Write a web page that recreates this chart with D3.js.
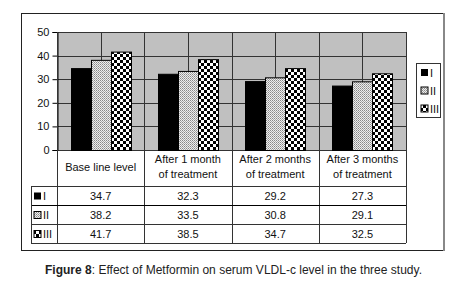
<!DOCTYPE html>
<html>
<head>
<meta charset="utf-8">
<script src="https://cdn.jsdelivr.net/npm/d3@7"></script>
<style>
  body { margin: 0; background: #fff; }
  text { font-family: "Liberation Sans", Arial, sans-serif; }
</style>
</head>
<body>
<div id="chart"></div>
<script>
const categories = [["Base line level"], ["After 1 month", "of treatment"], ["After 2 months", "of treatment"], ["After 3 months", "of treatment"]];
const series = ["I", "II", "III"];
const valuesI = [34.7, 32.3, 29.2, 27.3];
const valuesII = [38.2, 33.5, 30.8, 29.1];
const valuesIII = [41.7, 38.5, 34.7, 32.5];
const yTicks = [0, 10, 20, 30, 40, 50];

const rows = [valuesI, valuesII, valuesIII];
const fills = ["#000", "url(#pII)", "url(#pIII)"];

const width = 458, height = 292;
const svg = d3.select("#chart").append("svg")
    .attr("width", width).attr("height", height);

// patterns
const defs = svg.append("defs");
const p2 = defs.append("pattern").attr("id", "pII")
    .attr("patternUnits", "userSpaceOnUse").attr("width", 2).attr("height", 2);
p2.append("rect").attr("width", 2).attr("height", 2).attr("fill", "#eeeeee");
p2.append("rect").attr("width", 1).attr("height", 1).attr("fill", "#888");
p2.append("rect").attr("x", 1).attr("y", 1).attr("width", 1).attr("height", 1).attr("fill", "#aaa");
const p3 = defs.append("pattern").attr("id", "pIII")
    .attr("patternUnits", "userSpaceOnUse").attr("width", 6).attr("height", 6);
p3.append("rect").attr("width", 6).attr("height", 6).attr("fill", "#fff");
p3.append("rect").attr("width", 3).attr("height", 3).attr("fill", "#000");
p3.append("rect").attr("x", 3).attr("y", 3).attr("width", 3).attr("height", 3).attr("fill", "#000");

// outer frame
svg.append("rect").attr("x", 21.5).attr("y", 13.5).attr("width", 422).attr("height", 237)
    .attr("fill", "#fff").attr("stroke", "#222");
svg.append("line").attr("x1", 444).attr("x2", 444).attr("y1", 13).attr("y2", 251)
    .attr("stroke", "#888").attr("stroke-width", 2);

const x = d3.scaleBand().domain(d3.range(categories.length)).range([57, 406]).padding(0);
const xs = d3.scaleBand().domain(series).range([0, 60]);
const y = d3.scaleLinear().domain([0, 50]).range([150, 32]);

// plot area
svg.append("rect").attr("x", 57).attr("y", y(50)).attr("width", 349).attr("height", y(0) - y(50))
    .attr("fill", "#c0c0c0");

const grid = svg.append("g").attr("stroke", "#333").attr("stroke-width", 1);
grid.selectAll(".h").data(yTicks).join("line")
    .attr("x1", 57).attr("x2", 406)
    .attr("y1", d => Math.round(y(d)) + 0.5).attr("y2", d => Math.round(y(d)) + 0.5);
const halfs = d3.range(categories.length * 2 + 1).map(i => 57 + i * x.bandwidth() / 2);
grid.selectAll(".v").data(halfs).join("line")
    .attr("x1", d => Math.round(d) + 0.5).attr("x2", d => Math.round(d) + 0.5)
    .attr("y1", y(50)).attr("y2", y(0));

// bars
const gBars = svg.append("g");
series.forEach((s, si) => {
    gBars.selectAll(".b" + si).data(rows[si]).join("rect")
        .attr("x", (d, i) => Math.round(x(i) + (x.bandwidth() - 60) / 2 + xs(s)) + 0.5)
        .attr("width", xs.bandwidth())
        .attr("y", d => y(d) + 0.5)
        .attr("height", d => y(0) - y(d))
        .attr("fill", fills[si])
        .attr("stroke", "#000").attr("stroke-width", 1);
});

// y axis
const yAxis = d3.axisLeft(y).tickValues(yTicks).tickSize(5).tickPadding(3);
const ya = svg.append("g").attr("transform", "translate(57.5,0)").call(yAxis);
ya.select(".domain").attr("stroke", "#000");
ya.selectAll("text").attr("font-size", 11).attr("fill", "#111");
ya.selectAll("line").attr("stroke", "#000");

// data table
const tbl = svg.append("g").attr("stroke", "#333").attr("fill", "none");
const rowY = [186, 205, 224, 243];
tbl.append("line").attr("x1", 57.5).attr("x2", 57.5).attr("y1", 32).attr("y2", 243);
x.domain().forEach(i => {
    const xr = Math.round(x(i) + x.bandwidth()) + 0.5;
    tbl.append("line").attr("x1", xr).attr("x2", xr).attr("y1", 150).attr("y2", 243);
});
rowY.forEach((ry, k) => {
    tbl.append("line").attr("x1", 31).attr("x2", 406)
        .attr("y1", ry + 0.5).attr("y2", ry + 0.5)
        .attr("stroke", k === 1 ? "#000" : "#333");
});
tbl.append("line").attr("x1", 31.5).attr("x2", 31.5).attr("y1", 186).attr("y2", 243);

// header labels
categories.forEach((lines, i) => {
    const cx = x(i) + x.bandwidth() / 2;
    const t = svg.append("text").attr("text-anchor", "middle").attr("font-size", 11).attr("fill", "#111");
    const y0 = lines.length === 1 ? 171 : 163;
    lines.forEach((ln, j) => t.append("tspan").attr("x", cx).attr("y", y0 + j * 14.5).text(ln));
});

// table rows
series.forEach((s, si) => {
    const cy = (rowY[si] + rowY[si + 1]) / 2;
    svg.append("rect").attr("x", 34).attr("y", cy - 3).attr("width", 7).attr("height", 7)
        .attr("fill", fills[si]).attr("stroke", "#000").attr("stroke-width", si ? 1 : 0);
    svg.append("text").attr("x", 43).attr("y", cy + 4.5).attr("font-size", 11).attr("fill", "#111").text(s);
    rows[si].forEach((v, i) => {
        svg.append("text").attr("x", x(i) + x.bandwidth() / 2).attr("y", cy + 4.5)
            .attr("text-anchor", "middle").attr("font-size", 11).attr("fill", "#111")
            .text(d3.format(".1f")(v));
    });
});

// legend
const lg = svg.append("g");
lg.append("rect").attr("x", 416.5).attr("y", 63.5).attr("width", 24).attr("height", 54)
    .attr("fill", "#fff").attr("stroke", "#333");
series.forEach((s, si) => {
    const ly = 72 + si * 18;
    lg.append("rect").attr("x", 421).attr("y", ly - 3).attr("width", 7).attr("height", 7)
        .attr("fill", fills[si]).attr("stroke", "#000").attr("stroke-width", si ? 1 : 0);
    lg.append("text").attr("x", 430).attr("y", ly + 4.5).attr("font-size", 11).attr("fill", "#111").text(s);
});

// caption
const cap = svg.append("text").attr("x", 45).attr("y", 274)
    .attr("font-size", 12).attr("fill", "#222")
    .attr("textLength", 377).attr("lengthAdjust", "spacing");
cap.append("tspan").attr("font-weight", "bold").text("Figure 8");
cap.append("tspan").text(": Effect of Metformin on serum VLDL-c level in the three study.");
</script>
</body>
</html>
